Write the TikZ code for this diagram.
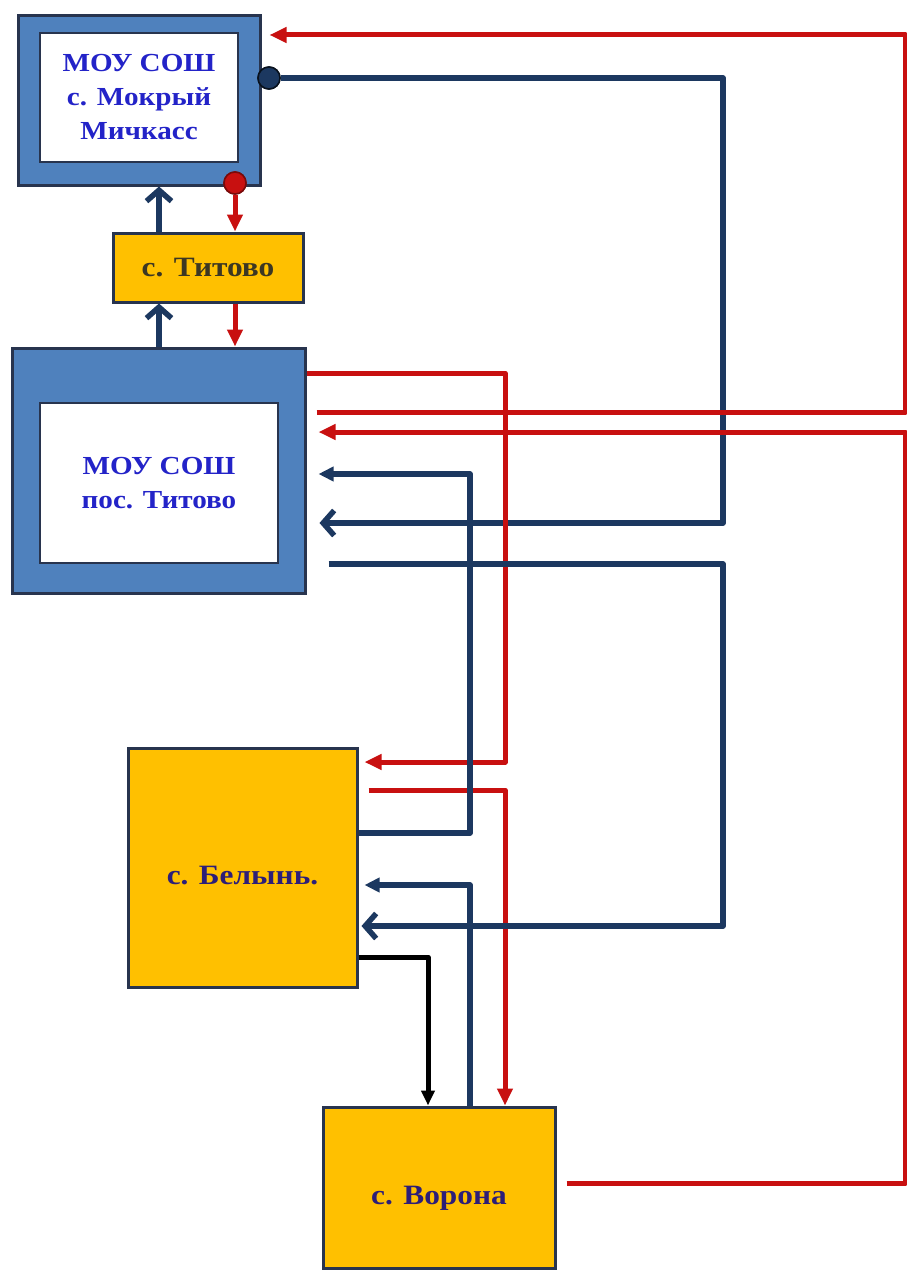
\documentclass[tikz,border=0pt]{standalone}
\usepackage{fontspec}
\setmainfont[FakeStretch=1.12]{Liberation Serif}
\usepackage{xcolor}
\usepackage{tikz}
\usetikzlibrary{arrows.meta, positioning, calc}
\definecolor{schoolblue}{RGB}{79, 129, 189}
\definecolor{edgenavy}{RGB}{40, 52, 78}
\definecolor{linknavy}{RGB}{28, 56, 96}
\definecolor{linkred}{RGB}{200, 16, 16}
\definecolor{villagegold}{RGB}{255, 192, 0}
\definecolor{labelblue}{RGB}{35, 35, 200}
\definecolor{labelindigo}{RGB}{45, 30, 120}
\definecolor{labelgrey}{RGB}{60, 55, 35}

\begin{document}
\begin{tikzpicture}[x=1pt, y=-1pt,
    schoolouter/.style={draw=edgenavy, line width=3pt, fill=schoolblue, minimum width=#1},
    schoolinner/.style={draw=edgenavy, line width=2.5pt, fill=white, align=center, text=labelblue,
        font=\bfseries\fontsize{26}{34}\selectfont},
    village/.style={draw=edgenavy, line width=3pt, fill=villagegold, align=center, text=labelindigo,
        font=\bfseries\fontsize{28}{32}\selectfont},
    redlink/.style={draw=linkred, line width=5pt, line join=round},
    navylink/.style={draw=linknavy, line width=5.5pt, line join=round},
    blacklink/.style={draw=black, line width=5pt, line join=round},
    redtip/.style={-{Triangle[length=17pt, width=15pt]}},
    navytip/.style={-{Triangle[length=15pt, width=14pt]}},
    barbtip/.style={-{Straight Barb[length=11pt, width=25pt]}},
    blacktip/.style={-{Triangle[length=15pt, width=13pt]}},
    dot/.style={circle, inner sep=0pt, minimum size=22pt, line width=1.5pt}]
    \fill[white] (0,0) rectangle (907,1271);
    \useasboundingbox (0,0) rectangle (907,1271);
    % schools
    \node[schoolouter=242pt, minimum height=169pt] (top) at (139,100.5) {};
    \node[schoolinner, minimum width=198pt, minimum height=129pt] (topin) at (139,97.5)
        {МОУ СОШ\\с. Мокрый\\Мичкасс};
    \node[schoolouter=293pt, minimum height=245pt] (mid) at (158.5,470.5) {};
    \node[schoolinner, minimum width=238pt, minimum height=160pt] (midin) at (159,483)
        {МОУ СОШ\\пос. Титово};
    % villages
    \node[village, minimum width=190pt, minimum height=69pt, text=labelgrey] (titovo) at (208,267.5) {с. Титово};
    \node[village, minimum width=229pt, minimum height=239pt] (belyn) at (242.5,867.5) {\raisebox{-17pt}[0pt][0pt]{с. Белынь.}};
    \node[village, minimum width=232pt, minimum height=161pt] (vorona) at (439,1187.5) {\raisebox{-17pt}[0pt][0pt]{с. Ворона}};
    \node[dot, draw=black!70!linknavy, fill=linknavy] (dotB) at (269,78) {};
    \node[dot, draw=black!40!linkred, fill=linkred] (dotR) at (235,183) {};

    % links round Titovo
    \draw[navylink, barbtip] (titovo.north -| 159,0) -- (top.south -| 159,0);
    \draw[navylink, barbtip] (mid.north -| 159,0) -- (titovo.south -| 159,0);
    \draw[redlink, redtip] (dotR) -- (titovo.north -| 235,0);
    \draw[redlink, redtip] (titovo.south -| 235,0) -- (mid.north -| 235,0);

    % long links
    \draw[navylink, barbtip, shorten >=13pt] (dotB) -- (723,78) |- (mid.east |- 0,523);
    \draw[redlink, redtip, shorten <=10pt, shorten >=8pt] (mid.east |- 0,412) -| (905,35) -- (top.east |- 0,35);
    \draw[redlink, redtip, shorten <=10pt, shorten >=12pt] (vorona.east |- 0,1183) -| (905,432) -- (mid.east |- 0,432);
    \draw[redlink, redtip, shorten >=6pt] (mid.east |- 0,373) -| (505,762) -- (belyn.east |- 0,762);
    \draw[redlink, redtip, shorten <=10pt] (belyn.east |- 0,790) -| (vorona.north -| 505,0);
    \draw[navylink, navytip, shorten >=12pt] (belyn.east |- 0,833) -| (470,474) -- (mid.east |- 0,474);
    \draw[navylink, navytip, shorten >=6pt] (vorona.north -| 470,0) |- (belyn.east |- 0,885);
    \draw[navylink, barbtip, shorten <=22pt, shorten >=3pt] (mid.east |- 0,564) -| (723,926) -- (belyn.east |- 0,926);
    \draw[blacklink, blacktip] (belyn.east |- 0,957) -| (vorona.north -| 428,0);

    \node[dot, draw=black!70!linknavy, fill=linknavy] at (dotB) {};
    \node[dot, draw=black!40!linkred, fill=linkred] at (dotR) {};
\end{tikzpicture}
\end{document}
